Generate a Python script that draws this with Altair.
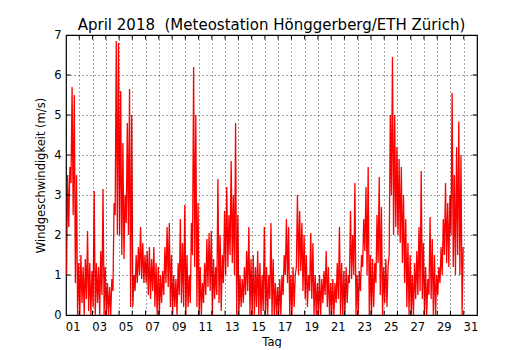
import altair as alt
import pandas as pd

# Wind speed (m/s), April 2018, per day six 4-hour blocks: block maxima and minima
hi = [
    [3.5, 3.7, 5.7, 5.5, 3.5, 1.3],    # 01
    [1.5, 1.2, 1.4, 2.1, 1.3, 1.1],    # 02
    [3.1, 1.3, 1.2, 1.6, 3.15, 1.2],   # 03
    [0.8, 0.7, 0.9, 2.8, 6.85, 6.8],   # 04
    [5.6, 4.3, 3.0, 4.8, 5.65, 5.0],   # 05
    [1.0, 1.5, 1.7, 2.2, 1.8, 1.5],    # 06
    [1.6, 1.7, 1.4, 1.7, 1.3, 1.2],    # 07
    [1.0, 1.1, 1.7, 2.2, 2.3, 1.5],    # 08
    [1.0, 0.9, 1.3, 2.4, 1.8, 2.75],   # 09
    [1.5, 1.0, 2.3, 6.2, 5.0, 2.8],    # 10
    [1.2, 0.8, 1.3, 1.9, 2.05, 2.1],   # 11
    [1.4, 1.2, 3.4, 2.0, 1.5, 2.6],    # 12
    [3.2, 2.5, 3.85, 3.0, 4.8, 2.5],   # 13
    [1.0, 0.9, 1.2, 1.6, 2.2, 1.4],    # 14
    [1.5, 1.2, 1.6, 1.3, 1.0, 2.2],    # 15
    [1.2, 1.0, 2.3, 1.4, 0.8, 0.7],    # 16
    [0.9, 1.0, 1.5, 2.4, 2.2, 1.0],    # 17
    [1.2, 1.0, 3.0, 2.6, 2.3, 2.0],    # 18
    [1.5, 1.0, 2.05, 1.8, 1.0, 0.8],   # 19
    [1.0, 0.9, 1.1, 1.6, 1.2, 0.8],    # 20
    [0.9, 0.8, 1.3, 2.2, 1.3, 1.1],    # 21
    [1.2, 1.0, 2.6, 2.0, 3.3, 1.0],    # 22
    [1.1, 1.5, 2.4, 3.2, 3.7, 1.5],    # 23
    [1.4, 1.3, 2.5, 3.45, 2.7, 1.2],   # 24
    [1.4, 1.2, 5.0, 6.45, 5.0, 4.2],   # 25
    [3.9, 3.7, 3.0, 2.4, 1.8, 1.5],    # 26
    [1.0, 1.3, 1.6, 2.2, 3.6, 1.8],    # 27
    [1.2, 0.9, 2.45, 1.9, 1.5, 1.0],   # 28
    [1.2, 1.7, 2.4, 3.3, 2.8, 3.0],    # 29
    [5.55, 3.5, 4.2, 4.84, 4.0, 1.7],  # 30
]
lo = [
    [1.0, 2.2, 3.3, 2.5, 0.8, 0.0],
    [0.0, 0.3, 0.0, 0.4, 0.1, 0.0],
    [0.2, 0.0, 0.3, 0.0, 0.5, 0.0],
    [0.0, 0.0, 0.0, 0.6, 2.5, 2.0],
    [2.0, 1.5, 1.4, 2.3, 2.0, 0.2],
    [0.2, 0.6, 0.8, 1.0, 0.9, 0.8],
    [0.8, 0.5, 0.4, 0.6, 0.2, 0.0],
    [0.0, 0.3, 0.5, 0.8, 0.7, 0.2],
    [0.0, 0.2, 0.0, 0.5, 0.3, 0.2],
    [0.0, 0.2, 0.3, 1.5, 1.2, 0.2],
    [0.0, 0.0, 0.3, 0.5, 0.7, 0.6],
    [0.0, 0.4, 0.5, 0.3, 0.1, 0.8],
    [1.0, 1.2, 1.5, 1.3, 1.0, 0.0],
    [0.0, 0.2, 0.3, 0.5, 0.6, 0.0],
    [0.0, 0.0, 0.2, 0.0, 0.0, 0.1],
    [0.0, 0.0, 0.4, 0.0, 0.0, 0.0],
    [0.0, 0.0, 0.5, 1.0, 0.8, 0.0],
    [0.0, 0.2, 1.2, 1.0, 1.1, 0.6],
    [0.4, 0.2, 0.6, 0.4, 0.0, 0.0],
    [0.0, 0.0, 0.3, 0.5, 0.2, 0.0],
    [0.0, 0.0, 0.3, 0.4, 0.0, 0.0],
    [0.0, 0.3, 0.8, 0.9, 1.0, 0.0],
    [0.0, 0.6, 1.2, 1.6, 1.0, 0.0],
    [0.0, 0.2, 0.8, 1.3, 0.5, 0.0],
    [0.3, 0.2, 1.5, 3.0, 2.0, 2.2],
    [2.0, 1.8, 1.3, 0.8, 0.2, 0.0],
    [0.0, 0.0, 0.4, 0.5, 0.6, 0.4],
    [0.0, 0.0, 0.5, 0.4, 0.0, 0.0],
    [0.5, 0.8, 1.0, 1.5, 1.3, 1.2],
    [2.0, 1.2, 1.0, 1.5, 1.0, 0.0],
]

y_ticks = [0, 1, 2, 3, 4, 5, 6, 7]
day_ticks = list(range(0, 32))

rows = []
for d in range(len(hi)):
    n = len(hi[d])
    for i in range(n):
        t0 = d + i / n
        w = 1.0 / n
        rows.append({"t": t0 + 0.25 * w, "v": lo[d][i]})
        rows.append({"t": t0 + 0.75 * w, "v": hi[d][i]})
df = pd.DataFrame(rows)

xscale = alt.Scale(domain=[0, 31], nice=False, zero=False)
yscale = alt.Scale(domain=[0, 7], nice=False, zero=False)

label_expr = ("(datum.value % 2 == 0 && datum.value < 31) ? "
              "((datum.value + 1) < 10 ? '0' + (datum.value + 1) : '' + (datum.value + 1)) : ''")

xaxis = alt.Axis(values=day_ticks, labelExpr=label_expr, labelOffset=6.63,
                 labelOverlap=False, labelFlush=False, labelBound=False,
                 grid=True, ticks=False, domain=False, title="Tag",
                 labelPadding=6, titlePadding=4, zindex=1)
yaxis = alt.Axis(values=y_ticks, grid=True, ticks=False, domain=False,
                 labelOverlap=False, labelFlush=False, labelBound=False,
                 title="Windgeschwindigkeit (m/s)", labelPadding=5,
                 titlePadding=7, zindex=1)

line = alt.Chart(df).mark_line(color="#ff0000", strokeWidth=1.3, strokeJoin="miter").encode(
    x=alt.X("t:Q", scale=xscale, axis=xaxis),
    y=alt.Y("v:Q", scale=yscale, axis=yaxis),
)

xt = pd.DataFrame({"d": list(range(1, 31))})
yt = pd.DataFrame({"v": list(range(1, 7))})

bt = alt.Chart(xt).mark_rule(color="black", strokeWidth=1).encode(
    x=alt.X("d:Q", scale=xscale, axis=xaxis), y=alt.value(280), y2=alt.value(275.5))
tt = alt.Chart(xt).mark_rule(color="black", strokeWidth=1).encode(
    x=alt.X("d:Q", scale=xscale, axis=xaxis), y=alt.value(0), y2=alt.value(4.5))
lt = alt.Chart(yt).mark_rule(color="black", strokeWidth=1).encode(
    y=alt.Y("v:Q", scale=yscale, axis=yaxis), x=alt.value(0), x2=alt.value(4.5))
rt = alt.Chart(yt).mark_rule(color="black", strokeWidth=1).encode(
    y=alt.Y("v:Q", scale=yscale, axis=yaxis), x=alt.value(411), x2=alt.value(406.5))

chart = alt.layer(line, bt, tt, lt, rt).properties(
    width=411, height=280,
    title=alt.TitleParams("April 2018 \u00a0(Meteostation Hönggerberg/ETH Zürich)",
                          font="DejaVu Sans", fontSize=15, fontWeight="normal",
                          color="black", anchor="middle", offset=0, dy=4),
    autosize=alt.AutoSizeParams(type="none"),
    padding={"left": 58, "top": 27, "right": 45, "bottom": 33},
).configure(background="white").configure_view(
    stroke="black", strokeWidth=1.2
).configure_axis(
    labelFont="DejaVu Sans", labelFontSize=11.5, labelColor="black",
    titleFont="DejaVu Sans", titleFontSize=11.5, titleFontWeight="normal", titleColor="black",
    gridColor="black", gridDash=[1, 3], gridWidth=0.8, gridOpacity=0.9,
)

chart.save("out.html", embed_options={"renderer": "svg", "actions": False})
